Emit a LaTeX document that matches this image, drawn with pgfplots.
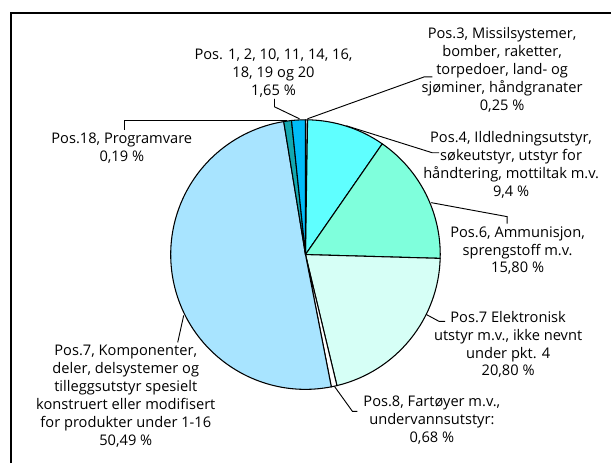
\documentclass[border=0pt]{standalone}
\usepackage{pgfplots}
\usepackage{pgfplotstable}
\pgfplotsset{compat=1.18}
\usepackage{fontspec}
\setmainfont{Open Sans}
\definecolor{cA}{HTML}{FFFFFF}
\definecolor{cB}{HTML}{5FFFFF}
\definecolor{cC}{HTML}{7FFFDC}
\definecolor{cD}{HTML}{D6FFF6}
\definecolor{cE}{HTML}{FFFFFF}
\definecolor{cF}{HTML}{A8E4FF}
\definecolor{cG}{HTML}{12A8B0}
\definecolor{cH}{HTML}{00BCF8}
% slices clockwise from 12 o'clock (percent)
\pgfplotstableread{
val col
0.25 cA
9.40 cB
15.80 cC
20.80 cD
0.68 cE
50.49 cF
0.93 cG
1.65 cH
}\pietable
\begin{document}
\begin{tikzpicture}
\begin{axis}[
  x=0.75pt, y=0.75pt,
  xmin=0, xmax=612, ymin=0, ymax=464,
  y dir=reverse,
  hide axis, clip=false,
  anchor=south west, at={(0,0)},
]
\path (axis cs:0,0) rectangle (axis cs:612,464);
\def\cx{306}\def\cy{255}\def\r{135}
\pgfmathsetmacro\cum{0}
\pgfplotsforeachungrouped \i in {0,...,7}{%
  \pgfplotstablegetelem{\i}{val}\of\pietable \let\v\pgfplotsretval
  \pgfplotstablegetelem{\i}{col}\of\pietable \let\c\pgfplotsretval
  \pgfmathsetmacro\aone{\cum*3.6}%
  \pgfmathsetmacro\atwo{(\cum+\v)*3.6}%
  \pgfmathsetmacro\sa{90-\aone}%
  \pgfmathsetmacro\ea{90-\atwo}%
  \pgfmathsetmacro\px{\cx+\r*sin(\aone)}%
  \pgfmathsetmacro\py{\cy-\r*cos(\aone)}%
  \edef\temp{\noexpand\filldraw[fill=\c, draw=black, line width=0.8pt, line join=round]
    (axis cs:\cx,\cy) -- (axis cs:\px,\py) arc[start angle=\sa, end angle=\ea, radius=101.25pt] -- cycle;}%
  \temp
  \pgfmathsetmacro\cum{\cum+\v}%
}
% frame
\draw[line width=1.6pt] (axis cs:11,464) -- (axis cs:11,13) -- (axis cs:612,13);
% leader lines
\draw[line width=0.7pt] (axis cs:308,119) -- (axis cs:425,77) -- (axis cs:433,77);
\draw[line width=0.7pt] (axis cs:347,126) -- (axis cs:433,153) -- (axis cs:440,153);
\draw[line width=0.7pt] (axis cs:432,203) -- (axis cs:508,217) -- (axis cs:508,224);
\draw[line width=0.7pt] (axis cs:427,315) -- (axis cs:440,322) -- (axis cs:446,322);
\draw[line width=0.7pt] (axis cs:335,387) -- (axis cs:353,412) -- (axis cs:358,412);
\draw[line width=0.7pt] (axis cs:184,316) -- (axis cs:178,343);
\draw[line width=0.7pt] (axis cs:125,130) -- (axis cs:125,121) -- (axis cs:287,121);
\draw[line width=0.7pt] (axis cs:275,99) -- (axis cs:275,107) -- (axis cs:300,119);
% labels
\tikzset{lbl/.style={align=center, inner sep=0pt, font=\fontsize{11}{13.5}\selectfont}}
\node[lbl] at (axis cs:274,73) {Pos. 1, 2, 10, 11, 14, 16,\\18, 19 og 20\\1,65 \%};
\node[lbl] at (axis cs:503,70) {Pos.3, Missilsystemer,\\bomber, raketter,\\torpedoer, land- og\\sjøminer, håndgranater\\0,25 \%};
\node[lbl] at (axis cs:512,165) {Pos.4, Ildledningsutstyr,\\søkeutstyr, utstyr for\\håndtering, mottiltak m.v.\\9,4 \%};
\node[lbl] at (axis cs:518.5,251) {Pos.6, Ammunisjon,\\sprengstoff m.v.\\15,80 \%};
\node[lbl] at (axis cs:509,345) {Pos.7 Elektronisk\\utstyr m.v., ikke nevnt\\under pkt. 4\\20,80 \%};
\node[lbl] at (axis cs:432.6,421) {Pos.8, Fartøyer m.v.,\\undervannsutstyr:\\0,68 \%};
\node[lbl] at (axis cs:126,396.5) {Pos.7, Komponenter,\\deler, delsystemer og\\tilleggsutstyr spesielt\\konstruert eller modifisert\\for produkter under 1-16\\50,49 \%};
\node[lbl] at (axis cs:122,148) {Pos.18, Programvare\\0,19 \%};
\end{axis}
\end{tikzpicture}
\end{document}
